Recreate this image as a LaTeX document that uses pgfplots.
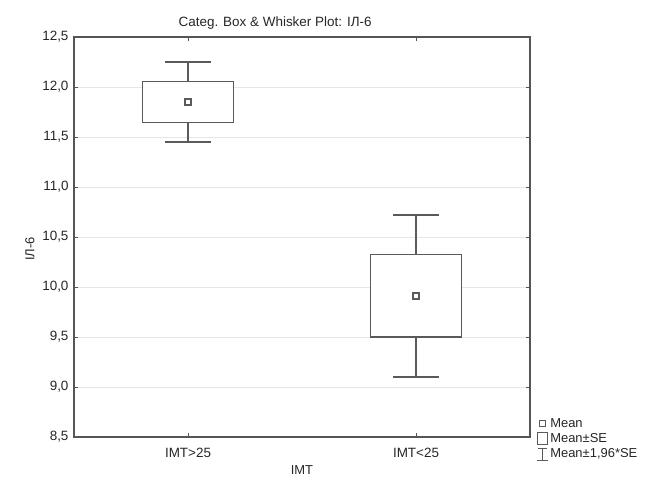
\documentclass[border=0pt]{standalone}
\usepackage{pgfplots}
\pgfplotsset{compat=1.18}
\usepackage{fontspec}
\setmainfont{Liberation Sans}
\definecolor{boxc}{HTML}{5A5A5A}
\definecolor{framec}{HTML}{555555}
\definecolor{gridc}{HTML}{E6E6E6}
\definecolor{txt}{HTML}{262626}
\begin{document}
\begin{tikzpicture}[x=1bp,y=1bp]
\useasboundingbox (-74,-43) rectangle (571,437);
\begin{axis}[
  at={(0,0)}, anchor=south west,
  scale only axis, width=456bp, height=400bp,
  xmin=-0.5, xmax=1.5, ymin=8.5, ymax=12.5,
  xtick={0,1}, xticklabels={IMT>25, IMT<25},
  ytick={8.5,9.0,9.5,10.0,10.5,11.0,11.5,12.0,12.5},
  yticklabel style={/pgf/number format/fixed, /pgf/number format/fixed zerofill, /pgf/number format/precision=1, /pgf/number format/use comma, xshift=-2bp},
  xticklabel style={yshift=-8bp},
  /pgf/number format/assume math mode=true,
  unbounded coords=jump,
  ymajorgrids, grid style={gridc, line width=0.8bp},
  axis line style={framec, line width=1.3bp},
  tick align=inside, tick pos=both, major tick length=4bp,
  tick style={framec, line width=0.8bp},
  tick label style={font=\fontsize{13.5}{15}\selectfont, text=txt},
  title={Categ. Box \& Whisker Plot: ІЛ-6},
  title style={at={(axis description cs:0.441,1)}, anchor=base, yshift=5bp, font=\fontsize{13.5}{15}\selectfont, text=txt},
  xlabel={IMT},
  xlabel style={at={(axis description cs:0.5,0)}, anchor=base, yshift=-38bp, font=\fontsize{13}{15}\selectfont, text=txt},
  ylabel={ІЛ-6},
  ylabel style={at={(axis description cs:-0.0965,0.47)}, anchor=center, font=\fontsize{13}{15}\selectfont, text=txt},
  legend style={at={(axis description cs:1.014,0.05)}, anchor=north west, draw=none, fill=none,
    font=\fontsize{13}{14}\selectfont, text=txt, row sep=2.5bp, inner sep=0bp, nodes={inner sep=1bp}},
  legend cell align=left,
]
% boxes: mean +/- SE
\addplot[boxc, line width=1.2bp, fill=white, forget plot]
  coordinates {(-0.2,11.645) (0.2,11.645) (0.2,12.055) (-0.2,12.055)} -- cycle;
\addplot[boxc, line width=1.2bp, fill=white, forget plot]
  coordinates {(0.8,9.50) (1.2,9.50) (1.2,10.325) (0.8,10.325)} -- cycle;
% whiskers: mean +/- 1.96 SE
\addplot[boxc, line width=1.1bp, forget plot] coordinates {
  (0,12.055) (0,12.25) (nan,nan) (-0.1,12.25) (0.1,12.25) (nan,nan)
  (0,11.645) (0,11.45) (nan,nan) (-0.1,11.45) (0.1,11.45) (nan,nan)
  (1,10.325) (1,10.72) (nan,nan) (0.9,10.72) (1.1,10.72) (nan,nan)
  (1,9.50) (1,9.10) (nan,nan) (0.9,9.10) (1.1,9.10)};
% means
\addplot[only marks, mark=square, mark size=3bp, boxc, line width=1.1bp, forget plot]
  coordinates {(0,11.85) (1,9.91)};
\addlegendimage{legend image code/.code={\draw[boxc, line width=1bp] (2bp,-3bp) rectangle (8bp,3bp); \path (0bp,0bp) (12bp,0bp);}}
\addlegendentry{Mean}
\addlegendimage{legend image code/.code={\draw[boxc, line width=1bp] (0bp,-6bp) rectangle (10bp,6bp); \path (0bp,0bp) (12bp,0bp);}}
\addlegendentry{Mean±SE}
\addlegendimage{legend image code/.code={\draw[boxc, line width=1bp] (0bp,-6bp) -- (11bp,-6bp) (5.5bp,-6bp) -- (5.5bp,6bp) (1bp,6bp) -- (10bp,6bp); \path (0bp,0bp) (12bp,0bp);}}
\addlegendentry{Mean±1,96*SE}
\end{axis}
\end{tikzpicture}
\end{document}
